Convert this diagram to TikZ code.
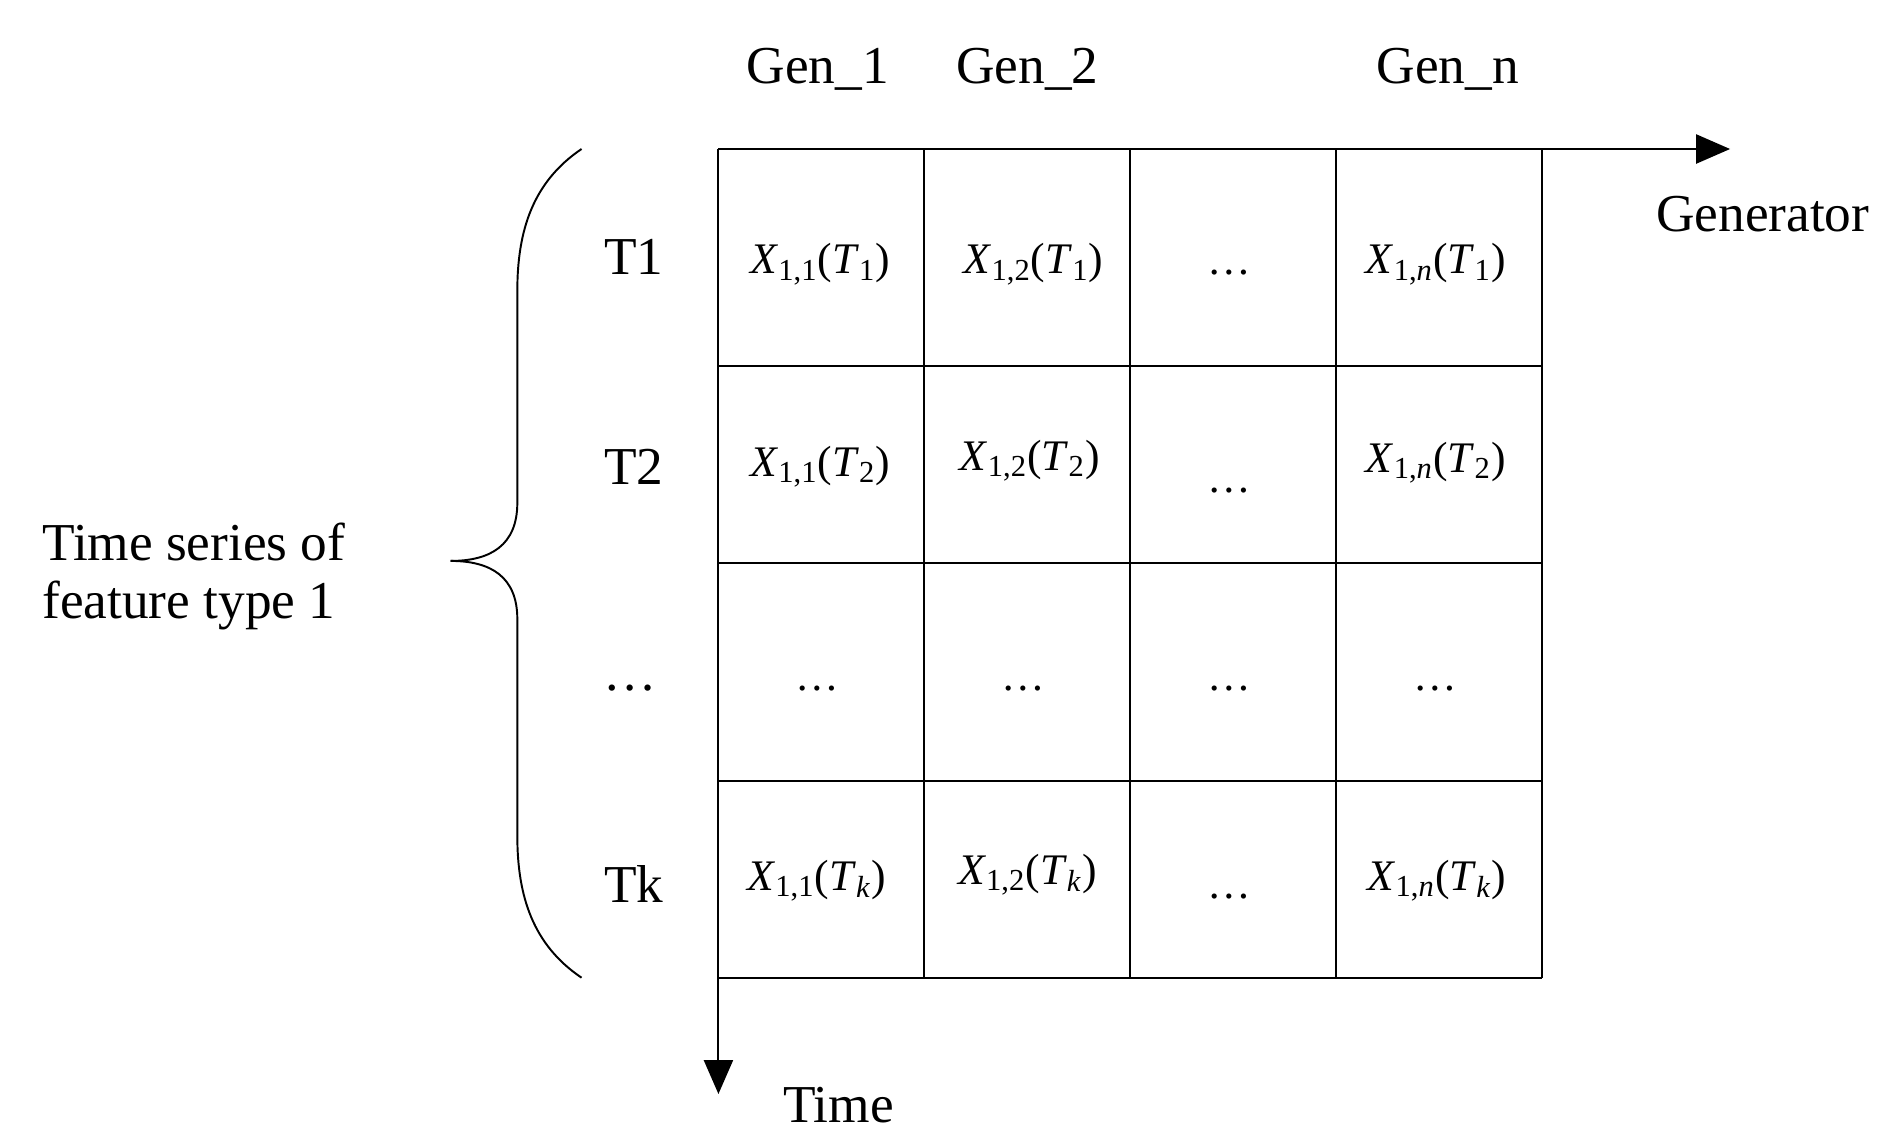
\documentclass[tikz,border=0pt]{standalone}
\usepackage{fontspec}
\usetikzlibrary{arrows.meta}
\setmainfont{Liberation Serif}
\begin{document}
\begin{tikzpicture}[x=0.5pt,y=-0.5pt,
  lbl/.style={font=\fontsize{22}{24}\selectfont,inner sep=0pt},
  cell/.style={font=\fontsize{18}{20}\selectfont,inner sep=0pt},
  ln/.style={line width=0.8pt},
  arr/.style={line width=0.8pt,-{Triangle[length=14pt,width=12pt]}}]
\useasboundingbox (0,0) rectangle (1560,945);
\foreach \x in {593,763,933,1103,1273} \draw[ln] (\x,123) -- (\x,807);
\foreach \y in {123,302,465,645,807} \draw[ln] (593,\y) -- (1273,\y);
\coordinate (o) at (593,123);
\coordinate (gx) at (1428,123);
\coordinate (ty) at (593,903);
\draw[arr] (o) -- (gx);
\draw[arr] (o) -- (ty);
\node[lbl] (g1) at (675,57) {Gen\_1};
\node[lbl] (g2) at (848,57) {Gen\_2};
\node[lbl] (gn) at (1195,57) {Gen\_n};
\node[lbl] (gen) at (1455,177) {Generator};
\node[lbl] (time) at (692,912) {Time};
\node[lbl] (r1) at (523,212) {T1};
\node[lbl] (r2) at (523,385) {T2};
\node[lbl] (r3) at (520,568) {\dots};
\node[lbl] (rk) at (523,730) {Tk};
\node[lbl,align=left] (ts) at (160,476) {Time series of\\feature type 1};
\draw[line width=0.8pt] (480,123) .. controls (440,150) and (427,190) .. (427,240)
  -- (427,415) .. controls (427,450) and (405,463) .. (372,463);
\draw[line width=0.8pt] (480,807) .. controls (440,780) and (427,740) .. (427,690)
  -- (427,511) .. controls (427,476) and (405,463) .. (372,463);
\newcommand\xe[2]{\textit{X}\textsubscript{1,#1}(\textit{T}\textsubscript{#2})}
\node[cell] (c11) at (677,218) {\xe{1}{1}};
\node[cell] (c12) at (853,218) {\xe{2}{1}};
\node[cell] (c13) at (1015,225) {\dots};
\node[cell] (c14) at (1185,218) {\textit{X}\textsubscript{1,\textit{n}}(\textit{T}\textsubscript{1})};
\node[cell] (c21) at (677,385) {\xe{1}{2}};
\node[cell] (c22) at (850,380) {\xe{2}{2}};
\node[cell] (c23) at (1015,405) {\dots};
\node[cell] (c24) at (1185,382) {\textit{X}\textsubscript{1,\textit{n}}(\textit{T}\textsubscript{2})};
\foreach \x/\n in {675/a,845/b,1015/c,1185/d} \node[cell] (d\n) at (\x,568) {\dots};
\node[cell] (c41) at (674,727) {\textit{X}\textsubscript{1,1}(\textit{T}\textsubscript{\textit{k}})};
\node[cell] (c42) at (848,722) {\textit{X}\textsubscript{1,2}(\textit{T}\textsubscript{\textit{k}})};
\node[cell] (c43) at (1015,740) {\dots};
\node[cell] (c44) at (1186,727) {\textit{X}\textsubscript{1,\textit{n}}(\textit{T}\textsubscript{\textit{k}})};
\end{tikzpicture}
\end{document}
